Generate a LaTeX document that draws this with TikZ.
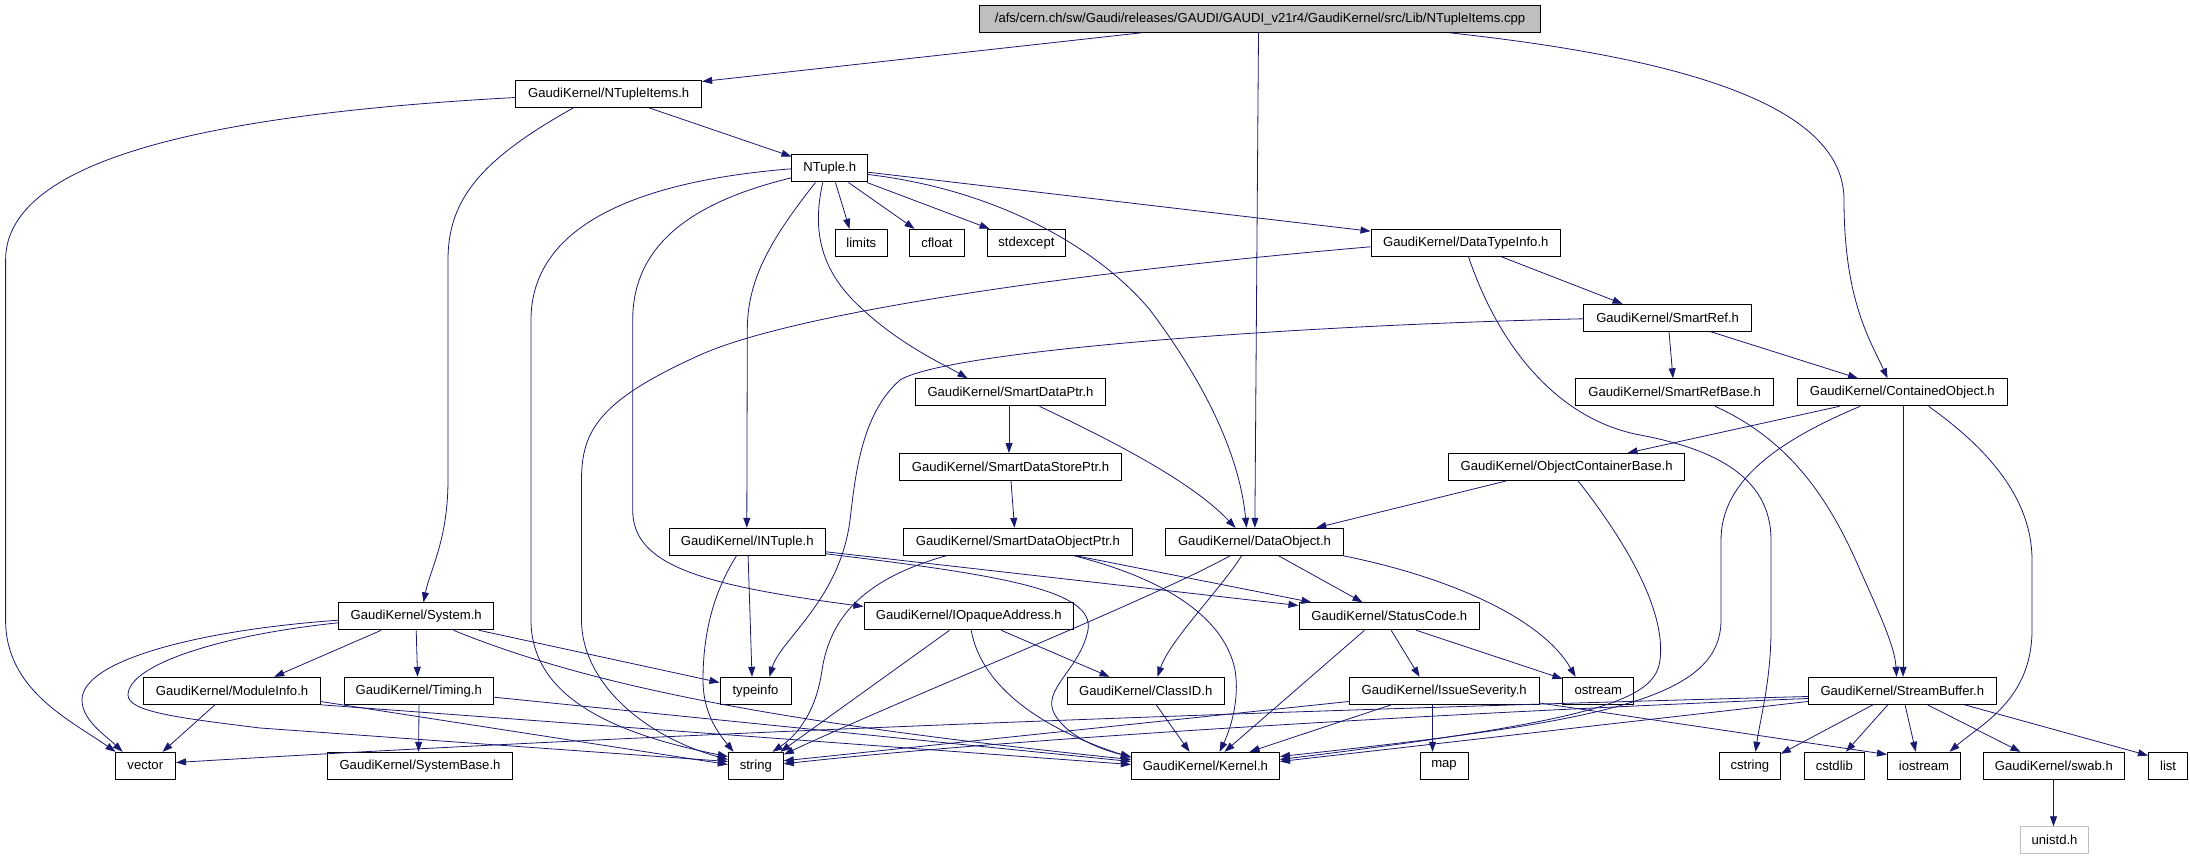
\documentclass[tikz,border=0pt]{standalone}
\usepackage{fontspec}
\setmainfont{Liberation Sans}
\usetikzlibrary{arrows.meta}
\definecolor{dxblue}{RGB}{25,25,112}
\definecolor{dxgray}{RGB}{191,191,191}
\begin{document}
\begin{tikzpicture}[x=1pt,y=-1pt,
 box/.style={draw=black, line width=1pt, minimum height=27pt, inner sep=0pt, font=\fontsize{13.1}{15}\selectfont, fill=white},
 dep/.style={draw=dxblue, line width=0.8pt, -{Triangle[length=10pt,width=7pt]}}]
\useasboundingbox[fill=white] (0,0) rectangle (2190,858);
% nodes
\node[box, fill=dxgray, minimum width=561pt] (root) at (1260,18.8) {/afs/cern.ch/sw/Gaudi/releases/GAUDI/GAUDI\_v21r4/GaudiKernel/src/Lib/NTupleItems.cpp};
\node[box, minimum width=185.8pt] (ntitems) at (608.7,93.8) {GaudiKernel/NTupleItems.h};
\node[box, minimum width=75.5pt] (ntuple) at (829.7,168.5) {NTuple.h};
\node[box, minimum width=52.2pt] (limits) at (861.3,242.8) {limits};
\node[box, minimum width=55.4pt] (cfloat) at (936.9,242.8) {cfloat};
\node[box, minimum width=78.7pt] (stdexcept) at (1026.4,242.8) {stdexcept};
\node[box, minimum width=189.6pt] (dti) at (1465.8,242.8) {GaudiKernel/DataTypeInfo.h};
\node[box, minimum width=167.6pt] (sref) at (1667.6,317.8) {GaudiKernel/SmartRef.h};
\node[box, minimum width=190.4pt] (sdp) at (1010.5,392.3) {GaudiKernel/SmartDataPtr.h};
\node[box, minimum width=197.4pt] (srb) at (1674.6,392.3) {GaudiKernel/SmartRefBase.h};
\node[box, minimum width=210.5pt] (co) at (1902.3,392.3) {GaudiKernel/ContainedObject.h};
\node[box, minimum width=222pt] (sdsp) at (1010.5,467) {GaudiKernel/SmartDataStorePtr.h};
\node[box, minimum width=235.6pt] (ocb) at (1566.6,467) {GaudiKernel/ObjectContainerBase.h};
\node[box, minimum width=156.4pt] (intuple) at (747.2,541.8) {GaudiKernel/INTuple.h};
\node[box, minimum width=228.6pt] (sdop) at (1017.9,541.8) {GaudiKernel/SmartDataObjectPtr.h};
\node[box, minimum width=178.3pt] (dobj) at (1254.5,541.8) {GaudiKernel/DataObject.h};
\node[box, minimum width=154.6pt] (system) at (416.2,616.3) {GaudiKernel/System.h};
\node[box, minimum width=209.6pt] (ioa) at (968.8,616.3) {GaudiKernel/IOpaqueAddress.h};
\node[box, minimum width=180.6pt] (status) at (1389.3,616.3) {GaudiKernel/StatusCode.h};
\node[box, minimum width=176.4pt] (modinfo) at (232.1,690.8) {GaudiKernel/ModuleInfo.h};
\node[box, minimum width=149.5pt] (timing) at (418.8,690.8) {GaudiKernel/Timing.h};
\node[box, minimum width=71pt] (typeinfo) at (755.5,690.8) {typeinfo};
\node[box, minimum width=157.4pt] (classid) at (1145.7,690.8) {GaudiKernel/ClassID.h};
\node[box, minimum width=189.9pt] (issue) at (1444.2,690.8) {GaudiKernel/IssueSeverity.h};
\node[box, minimum width=70.7pt] (ostream) at (1598.3,690.8) {ostream};
\node[box, minimum width=188.1pt] (sbuf) at (1902.3,690.8) {GaudiKernel/StreamBuffer.h};
\node[box, minimum width=60.5pt] (vector) at (145.3,765.8) {vector};
\node[box, minimum width=185.3pt] (sysbase) at (420,765.8) {GaudiKernel/SystemBase.h};
\node[box, minimum width=55pt] (string) at (755.8,765.8) {string};
\node[box, minimum width=148.1pt] (kernel) at (1205.4,765.8) {GaudiKernel/Kernel.h};
\node[box, minimum width=48pt] (map) at (1444,765.8) {map};
\node[box, minimum width=61pt] (cstring) at (1749.8,765.8) {cstring};
\node[box, minimum width=59.6pt] (cstdlib) at (1834.3,765.8) {cstdlib};
\node[box, minimum width=73.1pt] (iostream) at (1924,765.8) {iostream};
\node[box, minimum width=141pt] (swab) at (2053.8,765.8) {GaudiKernel/swab.h};
\node[box, minimum width=39.2pt] (list) at (2168.1,765.8) {list};
\node[box, draw=dxgray, minimum width=68pt] (unistd) at (2054.5,840.3) {unistd.h};
% edges
\draw[dep] ([xshift=162.5pt]root.south west) -- ([yshift=-1.7pt]ntitems.north east);
\draw[dep] ([xshift=279.5pt]root.south west) -- ([xshift=90pt]dobj.north west);
\draw[dep] ([xshift=470.5pt]root.south west) .. controls (1700,60) and (1844,110) .. (1844,200) .. controls (1844,300) and (1870,340) .. ([xshift=91pt]co.north west);
\draw[dep] ([yshift=-17.7pt]ntitems.north west) .. controls (250,112) and (5.6,150) .. (5.6,260) -- (5.6,620) .. controls (5.6,690) and (70,720) .. ([xshift=1pt]vector.north west);
\draw[dep] ([xshift=58.2pt]ntitems.south west) .. controls (480,160) and (448,200) .. (448,260) -- (448,480) .. controls (448,540) and (430,570) .. ([xshift=85.1pt]system.north west);
\draw[dep] ([xshift=133.6pt]ntitems.south west) -- ([yshift=-2pt]ntuple.north west);
\draw[dep] ([xshift=44pt]ntuple.south west) -- ([xshift=14.8pt]limits.north west);
\draw[dep] ([xshift=57pt]ntuple.south west) -- ([xshift=5.8pt]cfloat.north west);
\draw[dep] ([xshift=-1pt]ntuple.south east) -- ([xshift=3pt]stdexcept.north west);
\draw[dep] ([yshift=-17.7pt]ntuple.north east) -- ([yshift=-2.4pt]dti.north west);
\draw[dep] ([yshift=-20pt]ntuple.north east) .. controls (1000,190) and (1100,250) .. (1150,310) .. controls (1210,390) and (1240,460) .. ([xshift=81.7pt]dobj.north west);
\draw[dep] ([xshift=31.3pt]ntuple.south west) .. controls (812,230) and (820,270) .. (860,307) .. controls (900,345) and (945,365) .. ([xshift=52.7pt]sdp.north west);
\draw[dep] ([xshift=24pt]ntuple.south west) .. controls (770,240) and (747.3,280) .. (747.3,330) -- ([xshift=78.3pt]intuple.north west);
\draw[dep] ([yshift=-14.3pt]ntuple.north west) .. controls (650,180) and (531,220) .. (531,320) -- (531,620) .. controls (531,700) and (620,735) .. ([yshift=-4.7pt]string.north west);
\draw[dep] ([yshift=-23.3pt]ntuple.north west) .. controls (700,200) and (632.7,240) .. (632.7,320) -- (632.7,510) .. controls (632.7,565) and (700,585) .. ([yshift=-4.2pt]ioa.north west);
\draw[dep] ([xshift=130.9pt]dti.south west) -- ([xshift=39.2pt]sref.north west);
\draw[dep] ([yshift=-18pt]dti.north west) .. controls (1100,270) and (800,310) .. (700,355) .. controls (600,400) and (581.5,430) .. (581.5,480) -- (581.5,620) .. controls (581.5,680) and (640,735) .. ([yshift=-7.7pt]string.north west);
\draw[dep] ([xshift=98pt]dti.south west) .. controls (1500,350) and (1560,420) .. (1640,435) .. controls (1720,450) and (1771,480) .. (1771,540) -- (1771,630) .. controls (1771,680) and (1760,720) .. ([xshift=36.7pt]cstring.north west);
\draw[dep] ([xshift=85.7pt]sref.south west) -- ([xshift=97.6pt]srb.north west);
\draw[dep] ([xshift=127.7pt]sref.south west) -- ([xshift=61.4pt]co.north west);
\draw[dep] ([yshift=-15pt]sref.north west) .. controls (1300,325) and (950,350) .. (900,380) .. controls (860,415) and (855,480) .. (850,520) .. controls (840,600) and (780,640) .. ([xshift=50pt]typeinfo.north west);
\draw[dep] ([xshift=139.6pt]srb.south west) .. controls (1790,440) and (1830,500) .. (1860,570) .. controls (1885,625) and (1895,650) .. ([xshift=88.8pt]sbuf.north west);
\draw[dep] ([xshift=106.5pt]co.south west) -- ([xshift=95.3pt]sbuf.north west);
\draw[dep] ([xshift=43pt]co.south west) -- ([xshift=179.2pt]ocb.north west);
\draw[dep] ([xshift=63.6pt]co.south west) .. controls (1780,440) and (1721,480) .. (1721,540) -- (1721,620) .. controls (1721,700) and (1600,722) .. ([yshift=-4.7pt]kernel.north east);
\draw[dep] ([xshift=132pt]co.south west) .. controls (1990,450) and (2032,500) .. (2032,560) -- (2032,630) .. controls (2032,700) and (1980,725) .. ([xshift=62.6pt]iostream.north west);
\draw[dep] ([xshift=94.2pt]sdp.south west) -- ([xshift=110pt]sdsp.north west);
\draw[dep] ([xshift=124.7pt]sdp.south west) .. controls (1110,440) and (1190,480) .. ([xshift=70.7pt]dobj.north west);
\draw[dep] ([xshift=112pt]sdsp.south west) -- ([xshift=111.4pt]sdop.north west);
\draw[dep] ([xshift=42.9pt]sdop.south west) .. controls (860,580) and (830,620) .. (822,670) .. controls (815,720) and (790,740) .. ([xshift=44.7pt]string.north west);
\draw[dep] ([xshift=173.1pt]sdop.south west) -- ([xshift=13pt]status.north west);
\draw[dep] ([xshift=170.9pt]sdop.south west) .. controls (1170,580) and (1225,620) .. (1235,670) .. controls (1240,700) and (1230,730) .. ([xshift=88.7pt]kernel.north west);
\draw[dep] ([xshift=79.6pt]intuple.south west) -- ([xshift=32.5pt]typeinfo.north west);
\draw[dep] ([xshift=68pt]intuple.south west) .. controls (715,590) and (703,630) .. (703,680) .. controls (703,715) and (720,735) .. ([xshift=5.7pt]string.north west);
\draw[dep] ([yshift=-24pt]intuple.north east) -- ([yshift=-3.2pt]status.north west);
\draw[dep] ([yshift=-26pt]intuple.north east) .. controls (1000,575) and (1095,590) .. (1088,630) .. controls (1080,670) and (1040,690) .. (1055,715) .. controls (1070,740) and (1110,752) .. ([yshift=-4.7pt]kernel.north west);
\draw[dep] ([xshift=65.2pt]dobj.south west) .. controls (1150,600) and (900,700) .. ([yshift=-2.7pt]string.north east);
\draw[dep] ([xshift=76.7pt]dobj.south west) .. controls (1220,590) and (1170,640) .. ([xshift=91pt]classid.north west);
\draw[dep] ([xshift=113.7pt]dobj.south west) -- ([xshift=64pt]status.north west);
\draw[dep] ([xshift=-1pt]dobj.south east) .. controls (1440,575) and (1540,615) .. ([xshift=13.1pt]ostream.north west);
\draw[dep] ([xshift=57.7pt]ocb.south west) -- ([xshift=151.4pt]dobj.north west);
\draw[dep] ([xshift=129.9pt]ocb.south west) .. controls (1640,560) and (1665,620) .. (1660,660) .. controls (1655,700) and (1600,720) .. ([yshift=-7.7pt]kernel.north east);
\draw[dep] ([yshift=-17.9pt]system.north west) .. controls (200,630) and (82,660) .. (82,700) .. controls (82,720) and (105,735) .. ([xshift=8pt]vector.north west);
\draw[dep] ([yshift=-20.5pt]system.north west) .. controls (220,635) and (128,665) .. (128,695) .. controls (128,712) and (180,718) .. (260,728) -- ([yshift=-9.7pt]string.north west);
\draw[dep] ([xshift=42.8pt]system.south west) -- ([xshift=130.8pt]modinfo.north west);
\draw[dep] ([xshift=77.8pt]system.south west) -- ([xshift=74pt]timing.north west);
\draw[dep] ([xshift=140.6pt]system.south west) -- ([yshift=-5.7pt]typeinfo.north west);
\draw[dep] ([xshift=115.1pt]system.south west) .. controls (600,690) and (800,725) .. ([yshift=-7.7pt]kernel.north west);
\draw[dep] ([xshift=71.6pt]modinfo.south west) -- ([xshift=48pt]vector.north west);
\draw[dep] ([yshift=-24.7pt]modinfo.north east) -- ([yshift=-12.7pt]string.north west);
\draw[dep] (modinfo.south east) -- ([yshift=-12.7pt]kernel.north west);
\draw[dep] ([xshift=75.5pt]timing.south west) -- ([xshift=91.7pt]sysbase.north west);
\draw[dep] ([yshift=-20.4pt]timing.north east) -- ([yshift=-9.7pt]kernel.north west);
\draw[dep] ([xshift=86pt]ioa.south west) -- ([xshift=52.7pt]string.north west);
\draw[dep] ([xshift=107.7pt]ioa.south west) .. controls (980,680) and (1030,725) .. ([yshift=-5.7pt]kernel.north west);
\draw[dep] ([xshift=137.7pt]ioa.south west) -- ([xshift=43pt]classid.north west);
\draw[dep] ([xshift=89.7pt]classid.south west) -- ([xshift=58.7pt]kernel.north west);
\draw[dep] ([xshift=66pt]status.south west) -- ([xshift=93.7pt]kernel.north west);
\draw[dep] ([xshift=92.7pt]status.south west) -- ([xshift=70.8pt]issue.north west);
\draw[dep] ([xshift=117.7pt]status.south west) -- ([yshift=-2pt]ostream.north west);
\draw[dep] ([xshift=83.8pt]issue.south west) -- ([xshift=13pt]map.north west);
\draw[dep] ([xshift=42.5pt]issue.south west) -- ([xshift=118.7pt]kernel.north west);
\draw[dep] ([yshift=-24.7pt]issue.north west) -- ([yshift=-9pt]string.north east);
\draw[dep] ([yshift=-26.2pt]issue.north east) -- ([yshift=-2.7pt]iostream.north west);
\draw[dep] ([xshift=65.2pt]sbuf.south west) -- ([yshift=-2pt]cstring.north east);
\draw[dep] ([xshift=80.1pt]sbuf.south west) -- ([xshift=41.9pt]cstdlib.north west);
\draw[dep] ([xshift=97.3pt]sbuf.south west) -- ([xshift=28.8pt]iostream.north west);
\draw[dep] ([xshift=119.7pt]sbuf.south west) -- ([xshift=37.7pt]swab.north west);
\draw[dep] ([xshift=156.8pt]sbuf.south west) -- ([yshift=-3.7pt]list.north west);
\draw[dep] ([yshift=-19.7pt]sbuf.north west) .. controls (1300,710) and (700,731) .. ([yshift=-10.7pt]vector.north east);
\draw[dep] ([yshift=-21.7pt]sbuf.north west) .. controls (1400,715) and (1000,740) .. ([yshift=-12pt]string.north east);
\draw[dep] ([yshift=-24.7pt]sbuf.north west) -- ([yshift=-9.7pt]kernel.north east);
\draw[dep] ([xshift=70.7pt]swab.south west) -- ([xshift=33.5pt]unistd.north west);
\end{tikzpicture}
\end{document}
